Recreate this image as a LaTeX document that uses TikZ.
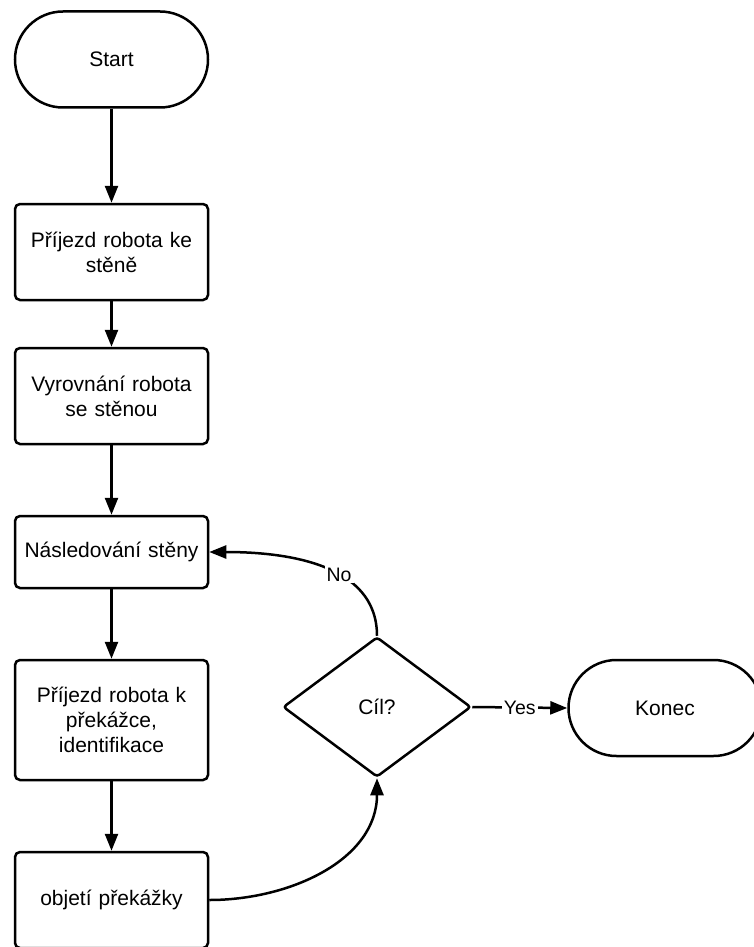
\documentclass[tikz,border=0pt]{standalone}
\usepackage{fontspec}
\setmainfont{Liberation Sans}
\usetikzlibrary{arrows.meta,shapes.geometric}

\begin{document}
\begin{tikzpicture}[x=1pt,y=1pt,
  every node/.style={font=\fontsize{21}{25}\selectfont, text=black},
  flow/.style={draw, line width=2.5pt, align=center},
  terminal/.style={flow, rectangle, rounded corners=48pt, minimum width=193pt, minimum height=96pt},
  stepbox/.style={flow, rectangle, rounded corners=5pt, minimum width=193pt, text width=180pt},
  decision/.style={flow, diamond, rounded corners=3pt, minimum width=188pt, minimum height=140pt},
  link/.style={line width=2.5pt, -{Triangle[length=17pt,width=13pt]}},
  tag/.style={fill=white, inner sep=2pt, font=\fontsize{19.5}{22}\selectfont}
]
\useasboundingbox (0,0) rectangle (754,-947);
\clip (0,0) rectangle (754,-947);

% main column
\node[terminal] (start) at (111.5,-59.5) {Start};
\node[stepbox, minimum height=96pt] (b1) at (111.5,-252) {Příjezd robota ke\\stěně};
\node[stepbox, minimum height=96pt] (b2) at (111.5,-396) {Vyrovnání robota\\se stěnou};
\node[stepbox, minimum height=72pt] (b3) at (111.5,-552) {Následování stěny};
\node[stepbox, minimum height=120pt] (b4) at (111.5,-720) {Příjezd robota k\\překážce,\\identifikace};
\node[stepbox, minimum height=96pt] (b5) at (111.5,-900) {objetí překážky};

% decision and end
\node[decision] (goal) at (377,-707) {Cíl?};
\node[terminal] (end) at (665,-708) {Konec};

% connectors
\draw[link] (start) -- (b1);
\draw[link] (b1) -- (b2);
\draw[link] (b2) -- (b3);
\draw[link] (b3) -- (b4);
\draw[link] (b4) -- (b5);
\draw[link] (b5.east) to[out=0,in=-90] (goal.south);
\draw[link] (goal.north) to[out=90,in=0] node[tag, pos=0.4] {No} (b3.east);
\draw[link] (goal.east) -- node[tag] {Yes} (end.west);
\end{tikzpicture}
\end{document}
